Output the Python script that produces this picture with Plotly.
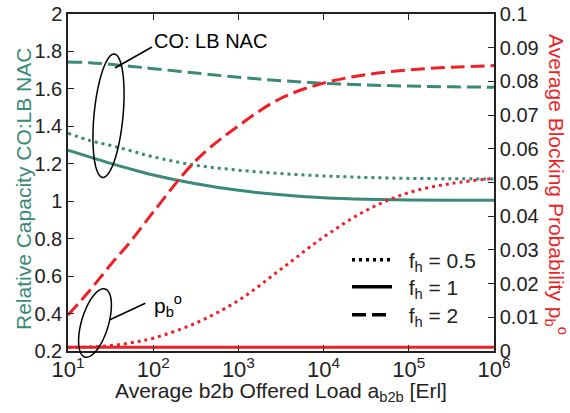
import numpy as np
import plotly.graph_objects as go

# ---------------- data ----------------
load_exp = [1, 1.25, 1.5, 1.75, 2, 2.5, 3, 3.5, 4, 4.5, 5, 5.5, 6]
load = [10 ** e for e in load_exp]

cap_fh05 = [1.363, 1.325, 1.298, 1.268, 1.237, 1.192, 1.166, 1.148, 1.135, 1.127, 1.122, 1.120, 1.119]
cap_fh1 = [1.272, 1.237, 1.202, 1.170, 1.140, 1.093, 1.058, 1.034, 1.018, 1.010, 1.007, 1.005, 1.005]
cap_fh2 = [1.744, 1.740, 1.731, 1.720, 1.708, 1.685, 1.662, 1.644, 1.630, 1.621, 1.615, 1.611, 1.609]

pb_fh05 = [0.0011, 0.0012, 0.0016, 0.0025, 0.0038, 0.0083, 0.0150, 0.0243, 0.0338, 0.0417, 0.0470, 0.0497, 0.0512]
pb_fh1 = [0.0011, 0.0011, 0.0011, 0.0011, 0.0011, 0.0011, 0.0011, 0.0011, 0.0011, 0.0011, 0.0011, 0.0011, 0.0011]
pb_fh2 = [0.0107, 0.0178, 0.0256, 0.0330, 0.0412, 0.0565, 0.0668, 0.0750, 0.0795, 0.0820, 0.0834, 0.0842, 0.0847]

x_tickvals = [10, 100, 1000, 10000, 100000, 1000000]
x_ticktext = ["10<sup>1</sup>", "10<sup>2</sup>", "10<sup>3</sup>", "10<sup>4</sup>", "10<sup>5</sup>", "10<sup>6</sup>"]
y_tickvals = [0.2, 0.4, 0.6, 0.8, 1.0, 1.2, 1.4, 1.6, 1.8, 2.0]
y_ticktext = ["0.2", "0.4", "0.6", "0.8", "1", "1.2", "1.4", "1.6", "1.8", "2"]
y2_tickvals = [0, 0.01, 0.02, 0.03, 0.04, 0.05, 0.06, 0.07, 0.08, 0.09, 0.1]
y2_ticktext = ["0", "0.01", "0.02", "0.03", "0.04", "0.05", "0.06", "0.07", "0.08", "0.09", "0.1"]

legend_labels = ["f<sub>h</sub> = 0.5", "f<sub>h</sub> = 1", "f<sub>h</sub> = 2"]

x_title = "Average b2b Offered Load a<sub>b2b</sub> [Erl]"
y_title = "Relative Capacity CO:LB NAC"
y2_title = "Average Blocking Probability p<sub>b</sub><sup>o</sup>"

# ---------------- style ----------------
GREEN = "#3a8a77"
RED = "#ee1f26"
AX = "#222222"
FONT = "Liberation Sans, Arial, Helvetica, sans-serif"
DOT = "3px,4px"
DASH = "14px,6px"
W, H = 570, 413
ML, MR, MT, MB = 68, 76, 14, 62
PW, PH = W - ML - MR, H - MT - MB


def px(x):
    return (x - ML) / PW


def py(y):
    return (H - MB - y) / PH


fig = go.Figure()

for vals, dash in [(cap_fh05, DOT), (cap_fh1, "solid"), (cap_fh2, DASH)]:
    fig.add_trace(go.Scatter(x=load, y=vals, mode="lines", yaxis="y",
                             line=dict(color=GREEN, width=3, dash=dash, shape="spline"),
                             showlegend=False, hoverinfo="skip"))
for vals, dash in [(pb_fh05, DOT), (pb_fh1, "solid"), (pb_fh2, DASH)]:
    fig.add_trace(go.Scatter(x=load, y=vals, mode="lines", yaxis="y2",
                             line=dict(color=RED, width=3, dash=dash, shape="spline"),
                             showlegend=False, hoverinfo="skip"))

legend_ids = ["legend", "legend2", "legend3"]
legend_rows = [260, 287, 315]
for lab, dash, lid in zip(legend_labels, [DOT, "solid", DASH], legend_ids):
    fig.add_trace(go.Scatter(x=[None], y=[None], mode="lines", name="\u00a0\u00a0" + lab, legend=lid,
                             line=dict(color="black", width=3.5, dash=dash)))


def ellipse_path(cx, cy, a, b, ang_deg, n=80):
    t = np.linspace(0, 2 * np.pi, n)
    th = np.deg2rad(ang_deg)
    xs = cx + b * np.cos(t) * np.cos(th) + a * np.sin(t) * np.sin(th)
    ys = cy + a * np.sin(t) * np.cos(th) - b * np.cos(t) * np.sin(th)
    pts = [f"{px(x):.5f},{py(y):.5f}" for x, y in zip(xs, ys)]
    return "M" + " L".join(pts) + " Z"


shapes = [
    dict(type="path", xref="paper", yref="paper", path=ellipse_path(108.5, 115.7, 62, 14.5, -5.4),
         line=dict(color="black", width=1.5)),
    dict(type="path", xref="paper", yref="paper", path=ellipse_path(95, 323, 35.5, 13.5, -16.5),
         line=dict(color="black", width=1.5)),
    dict(type="line", xref="paper", yref="paper", x0=px(115), y0=py(68), x1=px(152), y1=py(47),
         line=dict(color="black", width=1.5)),
    dict(type="line", xref="paper", yref="paper", x0=px(109.3), y0=py(320), x1=px(145.3), y1=py(303.3),
         line=dict(color="black", width=1.5)),
]

annotations = [
    dict(text="CO: LB NAC", xref="paper", yref="paper", x=px(152), y=py(41), xanchor="left",
         yanchor="middle", showarrow=False, font=dict(size=20, color="black", family=FONT)),
    dict(text="p<sub>b</sub><sup>o</sup>", xref="paper", yref="paper", x=px(152), y=py(305),
         xanchor="left", yanchor="middle", showarrow=False, font=dict(size=21, color="black", family=FONT)),
    dict(text=y2_title, xref="paper", yref="paper",
         x=px(557), y=py(184), xanchor="center", yanchor="middle", textangle=90, showarrow=False,
         font=dict(size=21, color=RED, family=FONT)),
    dict(text=y_title, xref="paper", yref="paper",
         x=px(23), y=py(189), xanchor="center", yanchor="middle", textangle=-90, showarrow=False,
         font=dict(size=21, color=GREEN, family=FONT)),
    dict(text=x_title, xref="paper", yref="paper",
         x=px(281), y=py(392), xanchor="center", yanchor="middle", showarrow=False,
         font=dict(size=21, color=AX, family=FONT)),
]

legend_common = dict(xanchor="left", yanchor="middle", bgcolor="rgba(0,0,0,0)",
                     font=dict(size=21, color=AX, family=FONT), itemwidth=40, tracegroupgap=0)

layout_legends = {}
for lid, row in zip(legend_ids, legend_rows):
    layout_legends[lid] = dict(x=px(347), y=py(row), **legend_common)

fig.update_layout(
    width=W, height=H,
    margin=dict(l=ML, r=MR, t=MT, b=MB, autoexpand=False),
    paper_bgcolor="white", plot_bgcolor="white",
    font=dict(family=FONT, size=20, color=AX),
    shapes=shapes, annotations=annotations,
    xaxis=dict(type="log", range=[1, 6], tickvals=x_tickvals, ticktext=x_ticktext,
               ticks="inside", ticklen=6, tickwidth=1.2, tickcolor=AX,
               showline=True, linecolor=AX, linewidth=1.5, mirror="ticks",
               showgrid=False, zeroline=False, tickfont=dict(size=22, color=AX),
               ticklabelstandoff=-2, automargin=False),
    yaxis=dict(range=[0.2, 2], tickvals=y_tickvals, ticktext=y_ticktext,
               ticks="inside", ticklen=6, tickwidth=1.2, tickcolor=AX,
               showline=True, linecolor=AX, linewidth=1.5,
               showgrid=False, zeroline=False, tickfont=dict(size=20, color=AX),
               automargin=False),
    yaxis2=dict(range=[0, 0.1], overlaying="y", side="right", tickvals=y2_tickvals, ticktext=y2_ticktext,
                ticks="inside", ticklen=6, tickwidth=1.2, tickcolor=AX,
                showline=True, linecolor=AX, linewidth=1.5,
                showgrid=False, zeroline=False, tickfont=dict(size=20, color=AX),
                automargin=False),
    showlegend=True,
    **layout_legends,
)

fig.write_html("out.html", config={"displayModeBar": False},
               post_script="document.body.style.margin='0';document.body.style.overflow='hidden';")
